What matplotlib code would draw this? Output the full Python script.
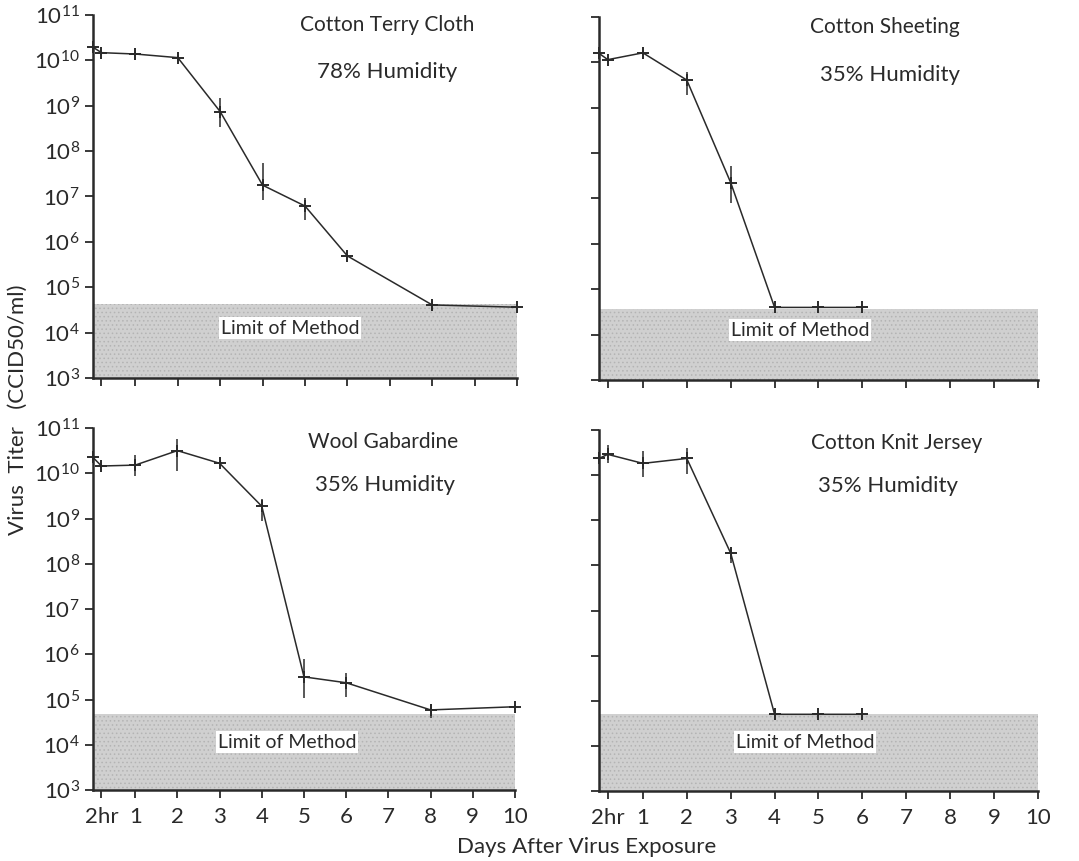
import numpy as np
import matplotlib
matplotlib.use("Agg")
import matplotlib.pyplot as plt

plt.rcParams['font.family'] = ['Lato', 'DejaVu Sans']
plt.rcParams['mathtext.default'] = 'regular'
plt.rcParams['hatch.linewidth'] = 0.6
plt.rcParams['hatch.color'] = '#b4b4b4'

# x positions (days); 0.2 stands for the 2 hr sample
x_long = [0, 0.2, 1, 2, 3, 4, 5, 6, 8, 10]
x_short = [0, 0.2, 1, 2, 3, 4, 5, 6]

# log10 titers, with error bar extents (log units)
terry_log = [10.29, 10.17, 10.14, 10.06, 8.87, 7.25, 6.79, 5.69, 4.61, 4.56]
terry_up = [0, 0.05, 0.05, 0.05, 0.30, 0.49, 0.17, 0.10, 0.08, 0]
terry_dn = [0, 0.05, 0.05, 0.05, 0.34, 0.33, 0.31, 0.10, 0.14, 0]

sheet_log = [10.20, 10.06, 10.21, 9.61, 7.35, 4.60, 4.60, 4.60]
sheet_up = [0, 0.06, 0.04, 0.18, 0.37, 0, 0, 0]
sheet_dn = [0, 0.06, 0.04, 0.33, 0.46, 0, 0, 0]

wool_log = [10.35, 10.16, 10.18, 10.50, 10.22, 9.27, 5.50, 5.37, 4.77, 4.84]
wool_up = [0, 0.05, 0.22, 0.26, 0.05, 0.16, 0.40, 0.22, 0.13, 0.03]
wool_dn = [0, 0.05, 0.24, 0.45, 0.05, 0.32, 0.47, 0.31, 0.17, 0.03]

knit_log = [10.37, 10.46, 10.26, 10.37, 8.27, 4.70, 4.70, 4.70]
knit_up = [0, 0.21, 0.28, 0.23, 0.10, 0, 0, 0]
knit_dn = [0, 0.19, 0.30, 0.34, 0.22, 0, 0, 0]

limits = [4.63, 4.57, 4.68, 4.70]
titles = ["Cotton Terry Cloth", "Cotton Sheeting", "Wool Gabardine", "Cotton Knit Jersey"]
humidity = ["78% Humidity", "35% Humidity", "35% Humidity", "35% Humidity"]

xtick_pos = [0.2, 1, 2, 3, 4, 5, 6, 7, 8, 9, 10]
xtick_lab = ["2hr", "1", "2", "3", "4", "5", "6", "7", "8", "9", "10"]
ytick_exp = [3, 4, 5, 6, 7, 8, 9, 10, 11]

W, H = 1079, 861
fig = plt.figure(figsize=(W / 100, H / 100), dpi=100)


def box(l, r, t, b):
    return [l / W, 1 - b / H, (r - l) / W, (b - t) / H]


panels = [
    (box(93, 517, 15, 378), x_long, terry_log, terry_up, terry_dn, (387, 25), (387, 72), (290, 328)),
    (box(599, 1038, 17, 380), x_short, sheet_log, sheet_up, sheet_dn, (885, 27), (890, 75), (800, 330)),
    (box(93, 515, 428, 790), x_long, wool_log, wool_up, wool_dn, (383, 442), (385, 485), (287, 742)),
    (box(599, 1038, 430, 791), x_short, knit_log, knit_up, knit_dn, (897, 443), (888, 486), (805, 742)),
]

ink = "#2a2a2a"
for i, (rect, xs, lg, up, dn, tpos, hpos, lpos) in enumerate(panels):
    ax = fig.add_axes(rect)
    ax.set_yscale("log")
    ax.set_xlim(0, 10)
    ax.set_ylim(1e3, 1e11)

    # stippled "limit of method" band
    ax.axhspan(1e3, 10 ** limits[i], facecolor="#d0d0d0", edgecolor="none", zorder=0)
    ax.axhspan(1e3, 10 ** limits[i], facecolor="none", edgecolor="#b4b4b4", hatch="....",
               lw=0, zorder=0)

    y = 10 ** np.array(lg)
    yerr = [y - 10 ** (np.array(lg) - np.array(dn)), 10 ** (np.array(lg) + np.array(up)) - y]
    ax.errorbar(xs, y, yerr=yerr, color=ink, lw=1.1, elinewidth=1.1, capsize=0,
                marker="+", ms=9, mew=1.4, clip_on=False, zorder=3)

    for s in ["top", "right"]:
        ax.spines[s].set_visible(False)
    for s in ["left", "bottom"]:
        ax.spines[s].set_linewidth(1.8)
        ax.spines[s].set_color(ink)

    ax.set_yticks([10.0 ** e for e in ytick_exp])
    ax.yaxis.set_minor_locator(matplotlib.ticker.NullLocator())
    ax.set_xticks(xtick_pos)
    ax.tick_params(direction="out", length=6, width=1.3, color=ink, labelcolor=ink, labelsize=16)
    ax.tick_params(axis="x", pad=6)
    if i % 2 == 0:
        ax.set_yticklabels(["$10^{%d}$" % e for e in ytick_exp])
    else:
        ax.set_yticklabels([])
    if i >= 2:
        ax.set_xticklabels(xtick_lab)
    else:
        ax.set_xticklabels([])

    fig.text(tpos[0] / W, 1 - tpos[1] / H, titles[i], ha="center", va="center", fontsize=15, color=ink)
    fig.text(hpos[0] / W, 1 - hpos[1] / H, humidity[i], ha="center", va="center", fontsize=16, color=ink)
    fig.text(lpos[0] / W, 1 - lpos[1] / H, "Limit of Method", ha="center", va="center", fontsize=14,
             color=ink, bbox=dict(facecolor="white", edgecolor="none", pad=1.5))

fig.text(18 / W, 1 - 410 / H, "Virus  Titer   (CCID50/ml)", rotation=90, ha="center", va="center",
         fontsize=16, color=ink)
fig.text(587 / W, 1 - 847 / H, "Days After Virus Exposure", ha="center", va="center", fontsize=16, color=ink)

fig.savefig("out.png", dpi=100, facecolor="white")
